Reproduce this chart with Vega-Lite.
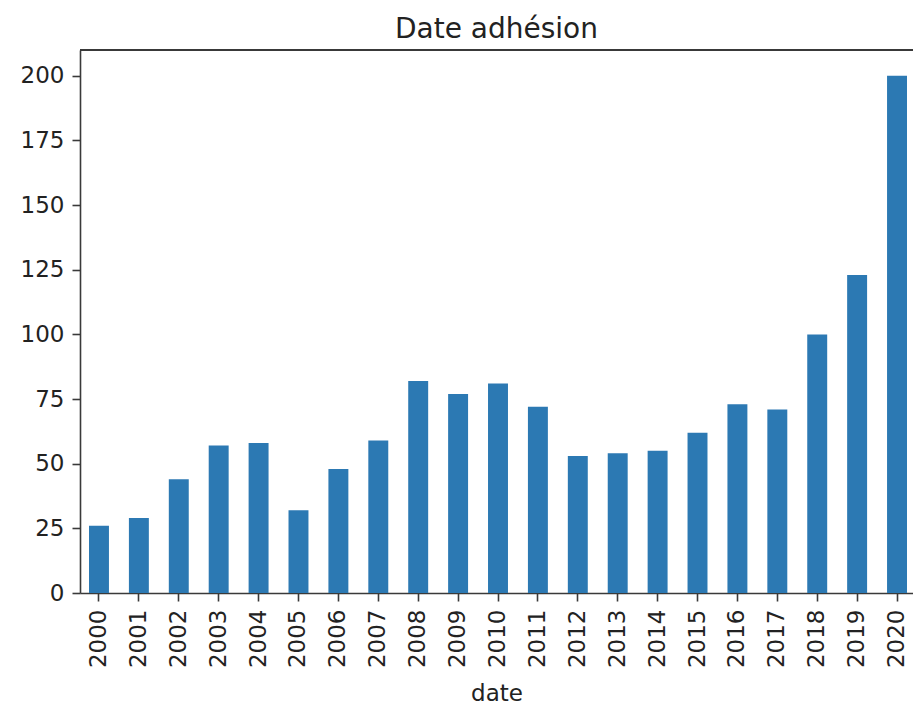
{
  "$schema": "https://vega.github.io/schema/vega-lite/v6.json",
  "autosize": "none",
  "padding": {"left": 80, "top": 50, "right": 0, "bottom": 117},
  "width": 833,
  "height": 543,
  "background": "white",
  "title": {
    "text": "Date adhésion",
    "frame": "group",
    "anchor": "middle",
    "font": "DejaVu Sans",
    "fontSize": 28,
    "fontWeight": "normal",
    "color": "#222222",
    "baseline": "alphabetic",
    "offset": -17
  },
  "config": {
    "view": {"stroke": null},
    "axis": {
      "grid": false,
      "labelFont": "DejaVu Sans",
      "titleFont": "DejaVu Sans",
      "labelFontSize": 23,
      "titleFontSize": 23,
      "titleFontWeight": "normal",
      "labelColor": "#222222",
      "titleColor": "#222222",
      "domainColor": "#3a3a3a",
      "domainWidth": 1.6,
      "tickColor": "#3a3a3a",
      "tickWidth": 1.6,
      "tickSize": 8,
      "labelPadding": 8
    }
  },
  "data": {
    "values": [
      {"date": "2000", "count": 26},
      {"date": "2001", "count": 29},
      {"date": "2002", "count": 44},
      {"date": "2003", "count": 57},
      {"date": "2004", "count": 58},
      {"date": "2005", "count": 32},
      {"date": "2006", "count": 48},
      {"date": "2007", "count": 59},
      {"date": "2008", "count": 82},
      {"date": "2009", "count": 77},
      {"date": "2010", "count": 81},
      {"date": "2011", "count": 72},
      {"date": "2012", "count": 53},
      {"date": "2013", "count": 54},
      {"date": "2014", "count": 55},
      {"date": "2015", "count": 62},
      {"date": "2016", "count": 73},
      {"date": "2017", "count": 71},
      {"date": "2018", "count": 100},
      {"date": "2019", "count": 123},
      {"date": "2020", "count": 200}
    ]
  },
  "layer": [
    {
      "mark": {"type": "bar", "color": "#2c79b3"},
      "encoding": {
        "x": {
          "field": "date",
          "type": "nominal",
          "sort": null,
          "scale": {"paddingInner": 0.5, "paddingOuter": 0.188, "align": 0.6},
          "axis": {
            "title": "date",
            "labelAngle": -90,
            "labelAlign": "right",
            "labelBaseline": "middle",
            "titlePadding": 15
          }
        },
        "y": {
          "field": "count",
          "type": "quantitative",
          "scale": {"domain": [0, 210], "nice": false},
          "axis": {"title": null, "values": [0, 25, 50, 75, 100, 125, 150, 175, 200]}
        }
      }
    },
    {
      "mark": {"type": "rule", "color": "#3a3a3a", "strokeWidth": 1.6},
      "encoding": {
        "y": {"datum": 210}
      }
    }
  ]
}
